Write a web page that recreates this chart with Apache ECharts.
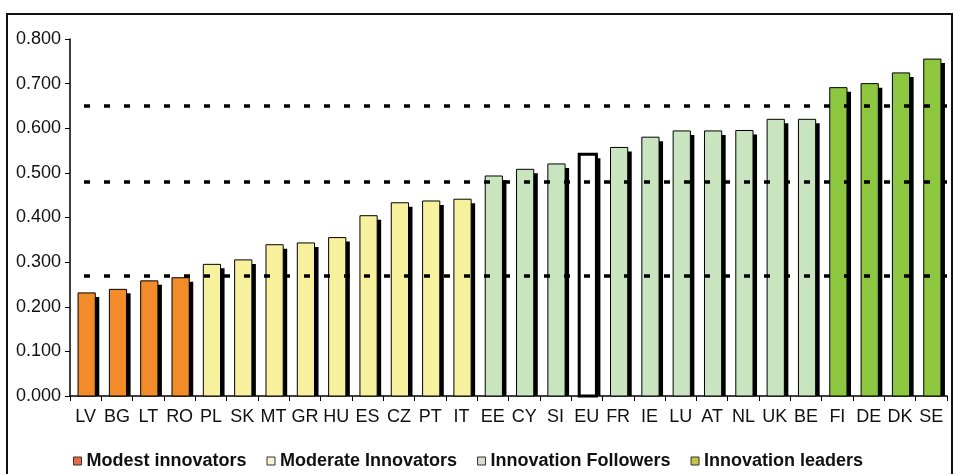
<!DOCTYPE html>
<html><head><meta charset="utf-8">
<script src="https://cdn.jsdelivr.net/npm/echarts@6/dist/echarts.min.js"></script>
<style>html,body{margin:0;padding:0;background:#fff}#c{width:954px;height:474px}</style>
</head><body><div id="c"></div>
<script>
const categories = ['LV','BG','LT','RO','PL','SK','MT','GR','HU','ES','CZ','PT','IT','EE','CY','SI','EU','FR','IE','LU','AT','NL','UK','BE','FI','DE','DK','SE'];
const values = [0.231,0.239,0.258,0.265,0.295,0.305,0.339,0.343,0.355,0.404,0.433,0.437,0.441,0.493,0.508,0.520,0.542,0.557,0.580,0.594,0.594,0.595,0.620,0.620,0.691,0.700,0.724,0.755];
const groups = ['M','M','M','M','Mo','Mo','Mo','Mo','Mo','Mo','Mo','Mo','Mo','F','F','F','EU','F','F','F','F','F','F','F','L','L','L','L'];
const thresholds = [0.648,0.484,0.267];
const yTicks = ['0.000','0.100','0.200','0.300','0.400','0.500','0.600','0.700','0.800'];
const groupDefs = [
  {key:'M', name:'Modest innovators', color:'#F28C2B', legendColor:'#E8684A', bw:1},
  {key:'Mo', name:'Moderate Innovators', color:'#F7F09D', legendColor:'#F6F2D8', bw:1},
  {key:'F', name:'Innovation Followers', color:'#C8E5C0', legendColor:'#D8DDD0', bw:1},
  {key:'L', name:'Innovation leaders', color:'#8DC63F', legendColor:'#C2C447', bw:1},
  {key:'EU', name:'EU', color:'#FFFFFF', legendColor:'#FFFFFF', bw:3}
];
const FONT = "'Liberation Sans', Arial, sans-serif";
function makeRender(g){
  return function(params, api){
    const idx = api.value(0), v = api.value(1);
    const top = api.coord([idx, v]);
    const base = api.coord([idx, 0]);
    const w = api.size([1, 0])[0] * 0.55;
    const x = top[0] - w/2 + 1;
    const h = base[1] - top[1];
    return {type:'group', children:[
      {type:'rect', shape:{x:x+4, y:top[1]+4, width:w, height:h-4}, style:{fill:'#000'}},
      {type:'rect', shape:{x:x, y:top[1], width:w, height:h}, style:{fill:g.color, stroke:'#000', lineWidth:g.bw}}
    ]};
  };
}
const series = groupDefs.map(g=>({
  name:g.name, type:'custom', z:2,
  renderItem: makeRender(g),
  encode:{x:0, y:1},
  itemStyle:{color:g.legendColor},
  data: values.map((v,i)=>groups[i]===g.key?[i,v]:null).filter(d=>d)
}));
series.push({
  name:'thr', type:'line', data:[], silent:true, z:5,
  markLine:{symbol:'none', silent:true, label:{show:false},
    lineStyle:{color:'#000', width:3.5, type:[6,14], dashOffset:6},
    data: thresholds.map(t=>({yAxis:t}))}
});
const chart = echarts.init(document.getElementById('c'));
chart.setOption({
  animation:false,
  backgroundColor:'#fff',
  graphic:[{type:'rect', shape:{x:7,y:14,width:945,height:470}, style:{fill:'none', stroke:'#111', lineWidth:2}, z:-1}],
  grid:{left:70, right:7, top:39, bottom:78},
  legend:{
    data: groupDefs.slice(0,4).map(g=>({name:g.name, itemStyle:{color:g.legendColor, borderColor:'#333', borderWidth:1}})),
    left:68, top:447, icon:'rect', itemWidth:8, itemHeight:8, itemGap:20,
    textStyle:{fontFamily:FONT, fontWeight:'bold', fontSize:18, color:'#111'}
  },
  xAxis:{type:'category', data:categories, boundaryGap:true,
    axisLine:{lineStyle:{color:'#000', width:1.5}},
    axisTick:{show:true, length:5, lineStyle:{color:'#000'}},
    axisLabel:{interval:0, fontFamily:FONT, fontSize:18, color:'#111', margin:12}},
  yAxis:{type:'value', min:0, max:0.8, interval:0.1,
    splitLine:{show:false},
    axisLine:{show:true, lineStyle:{color:'#000', width:1.5}},
    axisTick:{show:true, length:5, lineStyle:{color:'#000'}},
    axisLabel:{fontFamily:FONT, fontSize:18, color:'#111', margin:9, formatter:(v)=>yTicks[Math.round(v*10)]}},
  series:series
});
</script></body></html>
